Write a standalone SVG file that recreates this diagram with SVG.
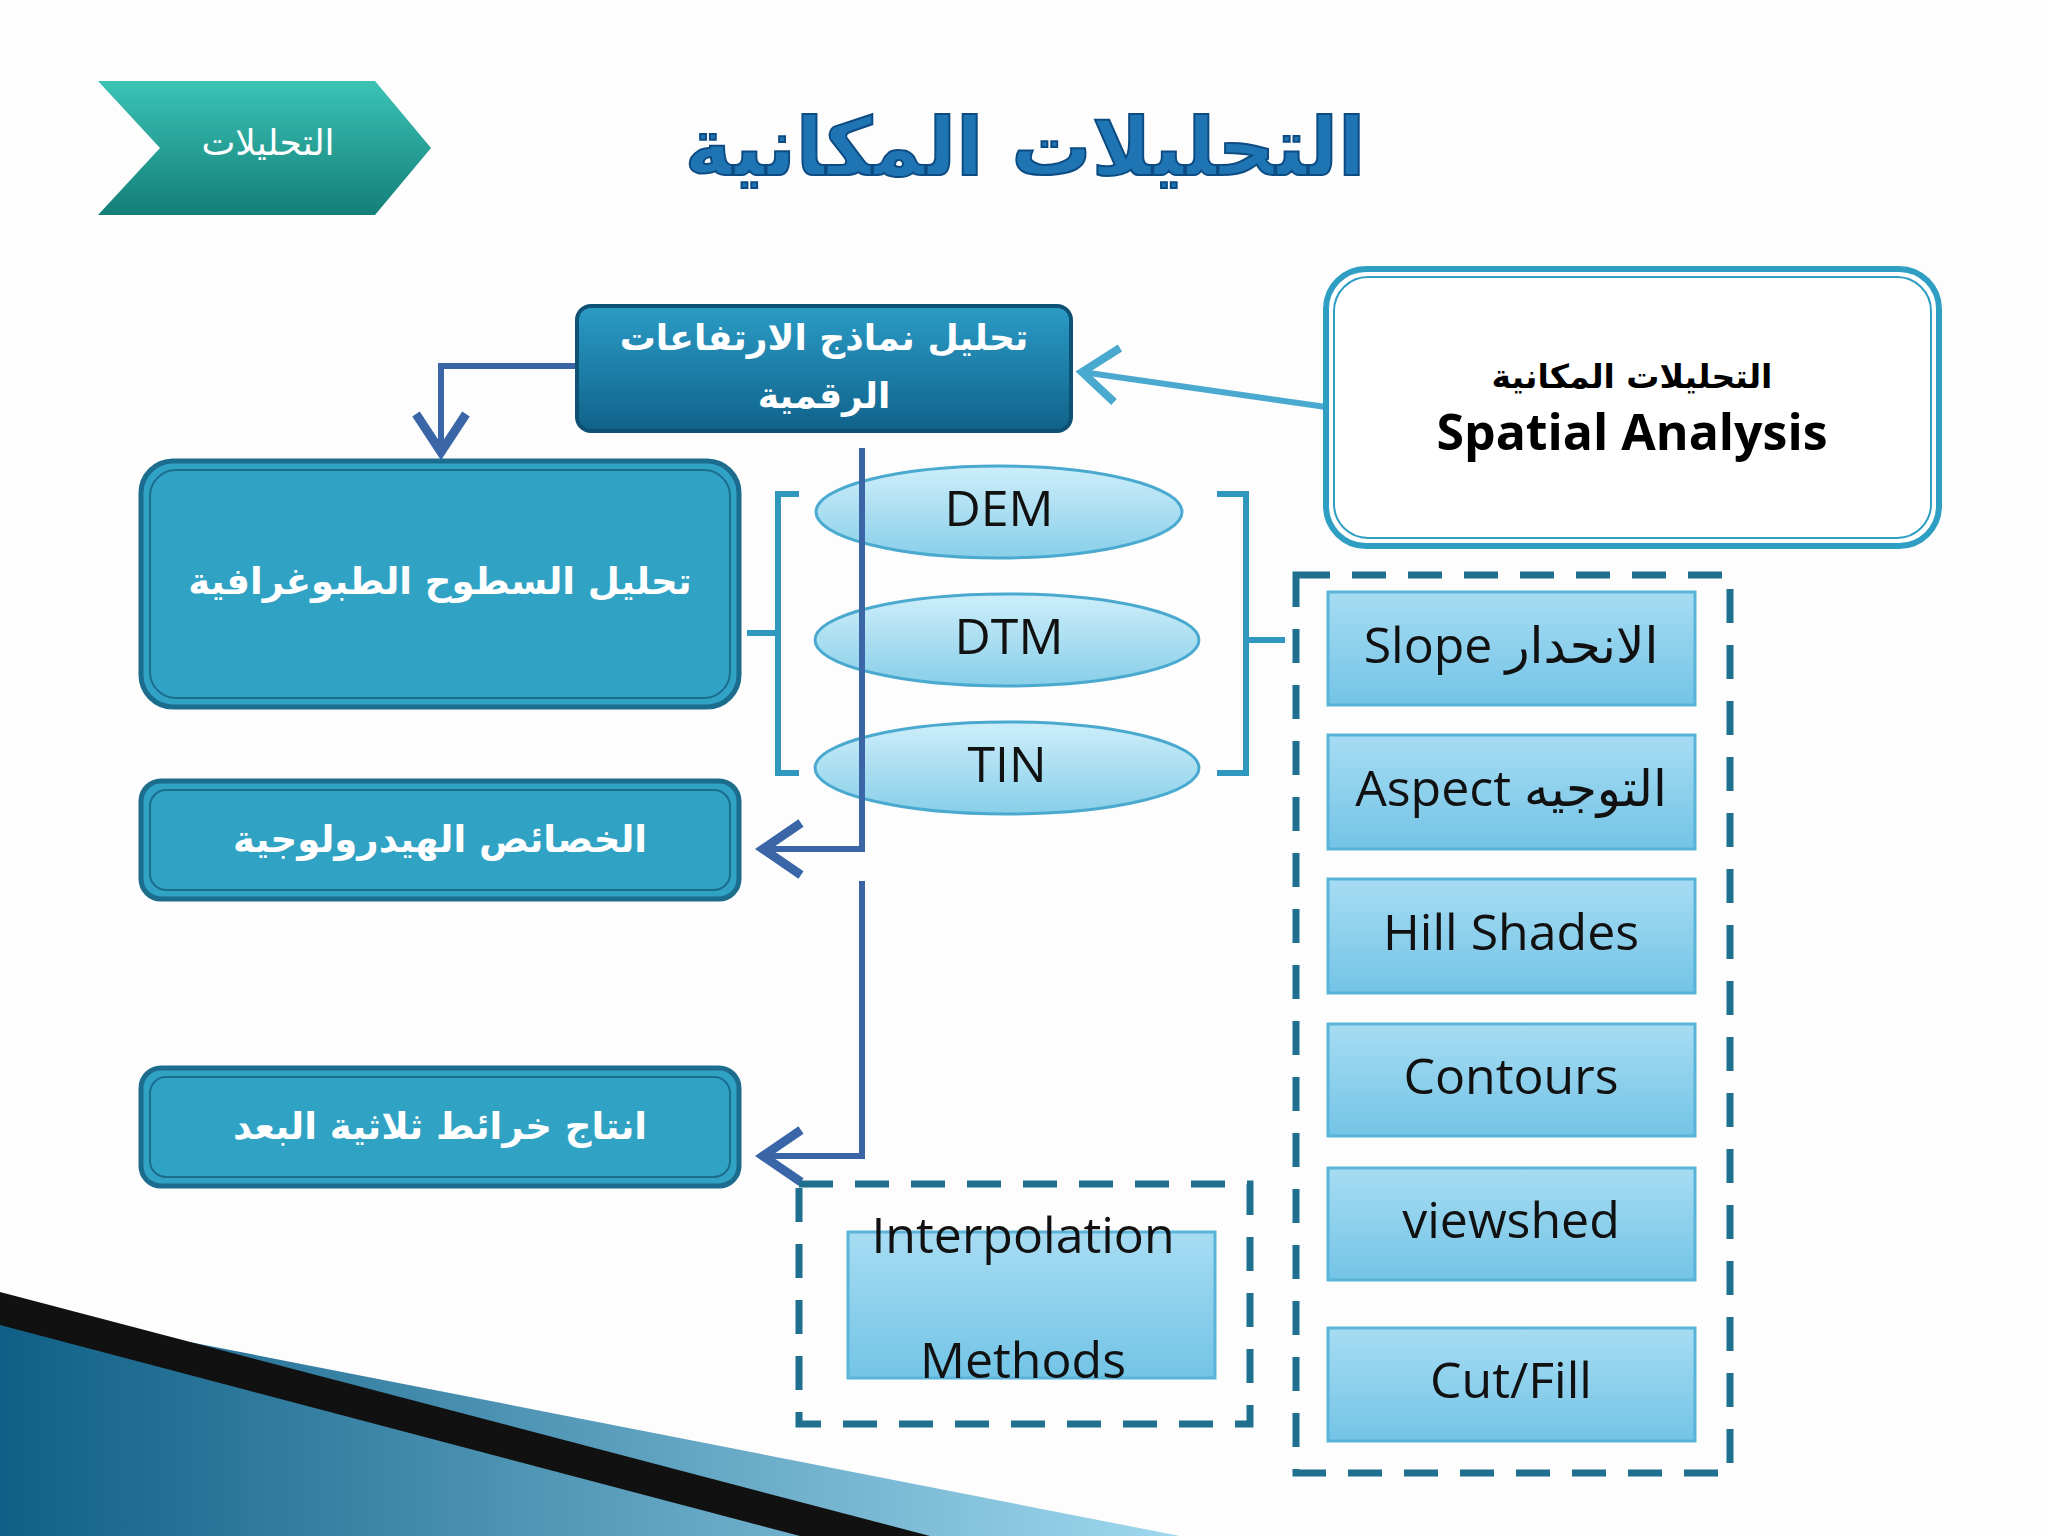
<svg xmlns="http://www.w3.org/2000/svg" width="2048" height="1536" viewBox="0 0 2048 1536">
<defs>
<linearGradient id="chev" x1="0" y1="0" x2="0" y2="1"><stop offset="0" stop-color="#3cc3b6"/><stop offset="1" stop-color="#137f78"/></linearGradient>
<linearGradient id="topb" x1="0" y1="0" x2="0" y2="1"><stop offset="0" stop-color="#2b9cc6"/><stop offset="1" stop-color="#10628a"/></linearGradient>
<linearGradient id="lb" x1="0" y1="0" x2="0" y2="1"><stop offset="0" stop-color="#a7dcf3"/><stop offset="1" stop-color="#73c4e6"/></linearGradient>
<linearGradient id="ell" x1="0" y1="0" x2="0" y2="1"><stop offset="0" stop-color="#cdeefa"/><stop offset="1" stop-color="#88cfe9"/></linearGradient>
<linearGradient id="swoosh" x1="0" y1="0" x2="1" y2="0"><stop offset="0" stop-color="#0f5f86"/><stop offset="1" stop-color="#9fd8ee"/></linearGradient>
<style>
.ar{font-family:"DejaVu Sans","Noto Sans",sans-serif;fill:#fff;text-anchor:middle}
.en{font-family:"Open Sans","DejaVu Sans",sans-serif;fill:#111;text-anchor:middle;font-size:50px}
.lbx{fill:#30a2c4;stroke:#1c6c8e;stroke-width:5}
.rb{fill:url(#lb);stroke:#5ab3d8;stroke-width:3}
.dash{fill:none;stroke:#1f6f8f;stroke-width:7;stroke-dasharray:34 22}
.conn{fill:none;stroke:#3a66a8;stroke-width:6}
.head{fill:none;stroke:#3a66a8;stroke-width:9;stroke-linejoin:miter}
</style>
</defs>
<rect width="2048" height="1536" fill="#fdfdfd"/>
<g id="decor">
<polygon points="0,1305 0,1536 1180,1536" fill="url(#swoosh)"/>
<polygon points="0,1292 930,1536 800,1536 0,1325" fill="#111"/>
</g>
<g id="chevron">
<polygon points="98,81 375,81 431,148 375,215 98,215 160,148" fill="url(#chev)"/>
<text x="268" y="155" class="ar" font-size="36">التحليلات</text>
</g>
<g id="title"><text x="1025" y="175" font-family="DejaVu Sans,sans-serif" font-weight="bold" font-size="80" fill="#1f74b4" text-anchor="middle" stroke="#0d4c82" stroke-width="2">التحليلات المكانية</text></g>
<g id="connectors">
<polyline class="conn" points="577,366 441,366 441,452"/>
<path class="head" d="M416,414 L441,452 L466,414"/>
<polyline class="conn" points="862,448 862,849 763,849"/>
<path class="head" d="M801,823 L763,849 L801,875"/>
<polyline class="conn" points="862,881 862,1156 763,1156"/>
<path class="head" d="M801,1130 L763,1156 L801,1182"/>
<line x1="1326" y1="407" x2="1082" y2="372" stroke="#4aa9cf" stroke-width="6"/>
<path d="M1120,348 L1082,372 L1114,402" fill="none" stroke="#4aa9cf" stroke-width="8"/>
<path d="M799,494 H778 V773 H799" fill="none" stroke="#3097bf" stroke-width="6"/>
<line x1="747" y1="633" x2="778" y2="633" stroke="#3097bf" stroke-width="6"/>
<path d="M1217,494 H1246 V773 H1217" fill="none" stroke="#3097bf" stroke-width="6"/>
<line x1="1246" y1="640" x2="1285" y2="640" stroke="#3097bf" stroke-width="6"/>
</g>
<g id="top"><rect x="577" y="306" width="494" height="125" rx="14" fill="url(#topb)" stroke="#0d5175" stroke-width="4"/>
<text x="824" y="350" class="ar" font-size="36" font-weight="bold">تحليل نماذج الارتفاعات</text>
<text x="824" y="408" class="ar" font-size="36" font-weight="bold">الرقمية</text></g>
<g id="spatial"><rect x="1326" y="269" width="613" height="277" rx="40" fill="#fff" stroke="#2f9ec3" stroke-width="6"/>
<rect x="1334" y="277" width="597" height="261" rx="34" fill="none" stroke="#2f9ec3" stroke-width="2"/>
<text x="1632" y="388" font-family="DejaVu Sans,sans-serif" font-weight="bold" font-size="33" text-anchor="middle">التحليلات المكانية</text>
<text x="1632" y="450" font-family="Open Sans,sans-serif" font-weight="bold" font-size="50" text-anchor="middle">Spatial Analysis</text></g>
<g id="l1"><rect class="lbx" x="141" y="461" width="598" height="246" rx="32"/><rect x="150" y="470" width="580" height="228" rx="26" fill="none" stroke="#1c6c8e" stroke-width="2"/><text x="440" y="594" class="ar" font-size="37" font-weight="bold">تحليل السطوح الطبوغرافية</text></g>
<g id="l2"><rect class="lbx" x="141" y="781" width="598" height="118" rx="20"/><rect x="150" y="790" width="580" height="100" rx="16" fill="none" stroke="#1c6c8e" stroke-width="2"/><text x="440" y="852" class="ar" font-size="37" font-weight="bold">الخصائص الهيدرولوجية</text></g>
<g id="l3"><rect class="lbx" x="141" y="1068" width="598" height="118" rx="20"/><rect x="150" y="1077" width="580" height="100" rx="16" fill="none" stroke="#1c6c8e" stroke-width="2"/><text x="440" y="1139" class="ar" font-size="37" font-weight="bold">انتاج خرائط ثلاثية البعد</text></g>
<g id="dem"><ellipse cx="999" cy="512" rx="183" ry="46" fill="url(#ell)" stroke="#4aa9cf" stroke-width="3"/><text x="999" y="526" class="en" font-size="46">DEM</text></g>
<g id="dtm"><ellipse cx="1007" cy="640" rx="192" ry="46" fill="url(#ell)" stroke="#4aa9cf" stroke-width="3"/><text x="1009" y="654" class="en" font-size="46">DTM</text></g>
<g id="tin"><ellipse cx="1007" cy="768" rx="192" ry="46" fill="url(#ell)" stroke="#4aa9cf" stroke-width="3"/><text x="1007" y="782" class="en" font-size="46">TIN</text></g>
<line x1="862" y1="448" x2="862" y2="849" stroke="#3a66a8" stroke-width="6"/>
<rect class="dash" x="1296" y="575" width="434" height="898"/>
<g id="slope"><rect class="rb" x="1328" y="592" width="367" height="113"/><text x="1511" y="663" class="en">Slope الانحدار</text></g>
<g id="aspect"><rect class="rb" x="1328" y="735" width="367" height="114"/><text x="1511" y="806" class="en">Aspect التوجيه</text></g>
<g id="hill"><rect class="rb" x="1328" y="879" width="367" height="114"/><text x="1511" y="950" class="en">Hill Shades</text></g>
<g id="contours"><rect class="rb" x="1328" y="1024" width="367" height="112"/><text x="1511" y="1094" class="en">Contours</text></g>
<g id="viewshed"><rect class="rb" x="1328" y="1168" width="367" height="112"/><text x="1511" y="1238" class="en">viewshed</text></g>
<g id="cutfill"><rect class="rb" x="1328" y="1328" width="367" height="113"/><text x="1511" y="1398" class="en">Cut/Fill</text></g>
<g id="interp"><rect class="dash" x="799" y="1184" width="451" height="240"/>
<rect class="rb" x="848" y="1232" width="367" height="146"/>
<text x="1023" y="1253" class="en">Interpolation</text><text x="1023" y="1378" class="en">Methods</text></g>
</svg>
